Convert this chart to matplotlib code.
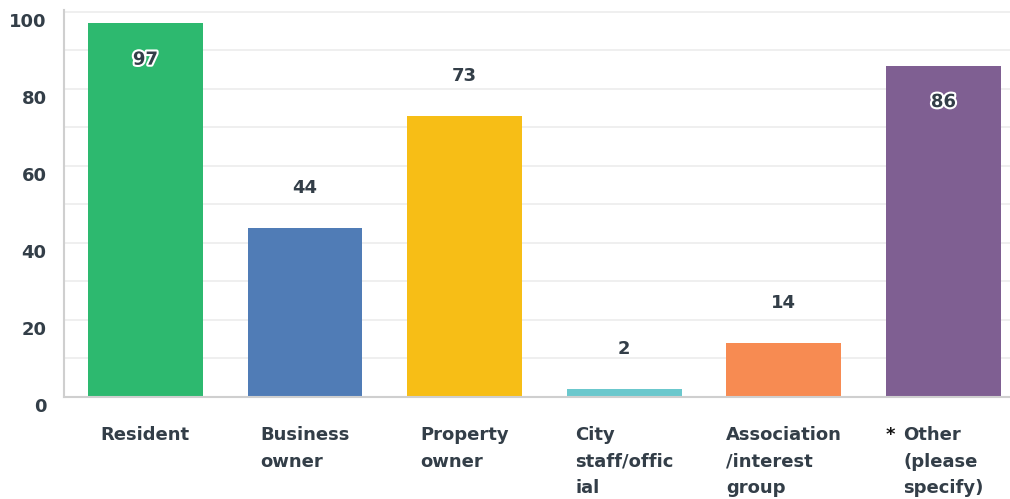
import matplotlib
matplotlib.use("Agg")
import matplotlib.pyplot as plt
import matplotlib.patheffects as pe
from matplotlib.transforms import ScaledTranslation, blended_transform_factory

categories = ["Resident", "Business\nowner", "Property\nowner", "City\nstaff/offic\nial",
              "Association\n/interest\ngroup", "Other\n(please\nspecify)"]
values = [97, 44, 73, 2, 14, 86]
colors = ["#2db96f", "#507cb6", "#f7be16", "#6bc8cd", "#f78b52", "#7f5f92"]
inside = [True, False, False, False, False, True]
yticks = [0, 20, 40, 60, 80, 100]

TXT = "#333e48"
FONT = ["DejaVu Sans"]

fig = plt.figure(figsize=(10.10, 4.99), dpi=100)
ax = fig.add_axes([64/1010, 102/499, 946/1010, 387/499])
x = list(range(len(values)))
ax.bar(x, values, width=0.72, color=colors, zorder=3)
ax.set_xlim(-0.51, 5.417)
ax.set_ylim(0, 100.5)

ax.set_yticks(yticks)
ax.set_yticks(range(0, 101, 10), minor=True)
ax.grid(axis="y", which="both", color="#ececec", linewidth=1.2, zorder=0)
ax.tick_params(axis="y", which="both", length=0, pad=12.5, labelsize=13, labelcolor=TXT)
for lab in ax.get_yticklabels():
    lab.set_fontfamily(FONT)
    lab.set_fontweight("bold")
    lab.set_transform(lab.get_transform() + ScaledTranslation(0, -8/100, fig.dpi_scale_trans))
ax.set_xticks([])
for s in ["top", "right"]:
    ax.spines[s].set_visible(False)
for s in ["left", "bottom"]:
    ax.spines[s].set_color("#cfcfcf")
    ax.spines[s].set_linewidth(1.5)
    ax.spines[s].set_zorder(4)

trans = blended_transform_factory(ax.transData, ax.transAxes)
for i, (cat, v, ins) in enumerate(zip(categories, values, inside)):
    if ins:
        ax.text(i, v - 9.4, str(v), ha="center", va="center", fontsize=13, color=TXT,
                fontfamily=FONT, fontweight="bold", zorder=5,
                path_effects=[pe.withStroke(linewidth=3, foreground="white")])
    else:
        ax.text(i, v + 10.4, str(v), ha="center", va="center", fontsize=13, color=TXT,
                fontfamily=FONT, fontweight="bold", zorder=5)
    t = ax.text(i, -0.075, cat, transform=trans, ha="center", va="top", fontsize=13,
                color=TXT, fontfamily=FONT, fontweight="bold", linespacing=1.62,
                multialignment="left")
    if i == 5:
        ax.text(i - 0.365, -0.075, "*", transform=trans, ha="left", va="top",
                fontsize=13, color="#111111", fontfamily=FONT, fontweight="bold")

fig.savefig("out.png", dpi=100)
